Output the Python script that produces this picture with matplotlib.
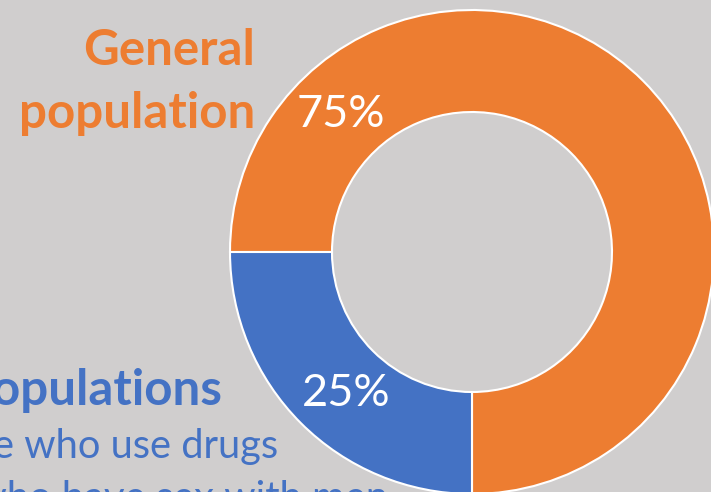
import matplotlib.pyplot as plt

# share of new infections
groups = ['General population', 'Key populations']
shares = [75, 25]
colores = ['#ED7D31', '#4472C4']
sub_items = ['People who use drugs', 'Men who have sex with men']

fondo = '#D0CECE'
plt.rcParams['font.family'] = ['Lato', 'DejaVu Sans']

fig = plt.figure(figsize=(7.11, 4.92), dpi=100, facecolor=fondo)
ax = fig.add_axes([0, 0, 1, 1])
ax.set_facecolor(fondo)

H = 492
ax.pie(shares, colors=colores, startangle=180, counterclock=False,
       radius=242, center=(472, H - 252),
       wedgeprops=dict(width=102, edgecolor='white', linewidth=1.5))

ax.set_xlim(0, 711)
ax.set_ylim(0, H)
ax.set_aspect('equal')
ax.axis('off')

# etiquetas de porcentaje
ax.text(341, H - 127, f'{shares[0]}%', color='white', fontsize=32.5,
        ha='center', va='baseline')
ax.text(346, H - 406, f'{shares[1]}%', color='white', fontsize=32.5,
        ha='center', va='baseline')

# titulo naranja
w1, w2 = groups[0].split(' ')
ax.text(255, H - 65, w1, color=colores[0], fontsize=35.5, fontweight='bold',
        ha='right', va='baseline')
ax.text(255, H - 128, w2, color=colores[0], fontsize=35.5, fontweight='bold',
        ha='right', va='baseline')

# texto azul (cortado a la izquierda)
ax.text(222, H - 405, groups[1], color=colores[1], fontsize=35.5,
        fontweight='bold', ha='right', va='baseline')
ax.text(278, H - 458, sub_items[0], color=colores[1], fontsize=28.7,
        ha='right', va='baseline')
ax.text(388, H - 510, sub_items[1], color=colores[1], fontsize=28.7,
        ha='right', va='baseline')

fig.savefig('out.png', dpi=100, facecolor=fondo)
